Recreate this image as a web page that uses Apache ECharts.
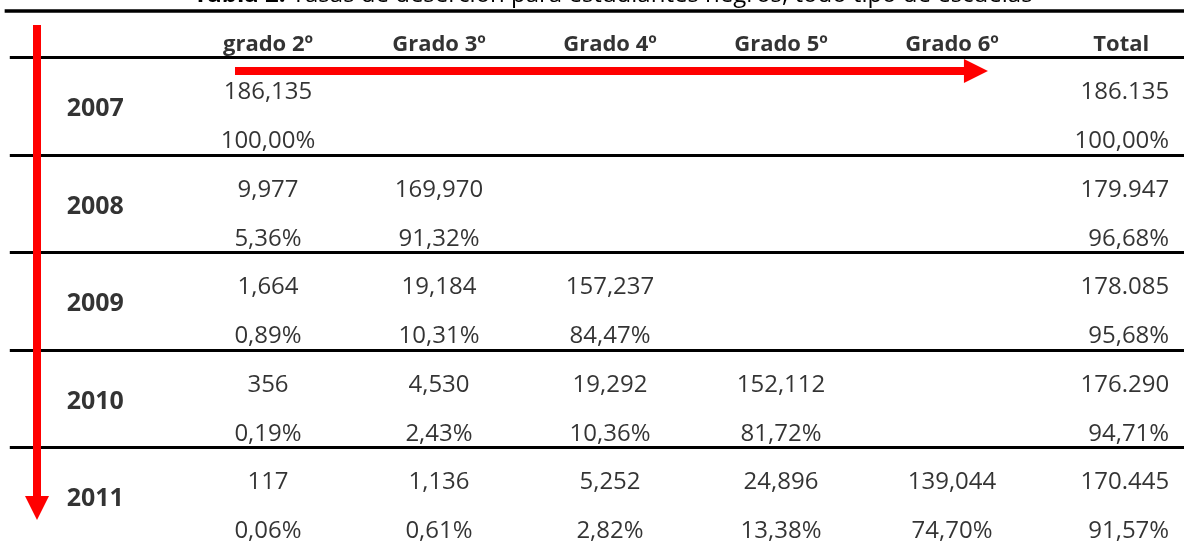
<!DOCTYPE html>
<html>
<head>
<meta charset="utf-8">
<script src="https://cdn.jsdelivr.net/npm/echarts@6/dist/echarts.min.js"></script>
<style>
  html, body { margin: 0; padding: 0; background: #fff; }
  #chart { width: 1184px; height: 544px; }
</style>
</head>
<body>
<div id="chart"></div>
<script>
// datos de la tabla
const years = ['2007', '2008', '2009', '2010', '2011'];
const grades = ['grado 2º', 'Grado 3º', 'Grado 4º', 'Grado 5º', 'Grado 6º'];
const totalHeader = 'Total';
const counts = [
    [186135],
    [9977, 169970],
    [1664, 19184, 157237],
    [356, 4530, 19292, 152112],
    [117, 1136, 5252, 24896, 139044]
];
const shares = [
    [100.00],
    [5.36, 91.32],
    [0.89, 10.31, 84.47],
    [0.19, 2.43, 10.36, 81.72],
    [0.06, 0.61, 2.82, 13.38, 74.70]
];
const totals = [186135, 179947, 178085, 176290, 170445];
const totalShares = [100.00, 96.68, 95.68, 94.71, 91.57];
const title = 'Tasas de deserción para estudiantes negros, todo tipo de escuelas';

// layout: 1 unidad x = una columna, 1 unidad y = un año
const W = 1184, H = 544;
const COL_PX = 171, ROW_PX = 97.5;
const X0 = 268, Y0 = 57.5;
const xMin = -X0 / COL_PX, xMax = xMin + W / COL_PX;
const yMin = -Y0 / ROW_PX, yMax = yMin + H / ROW_PX;

const HEADER_Y = -0.13;
const COUNT_OFF = 0.36;
const PCT_OFF = 0.86;
const YEAR_OFF = 0.53;
const YEAR_X = -1.01;
const TOTAL_X = 5.27;

const sep = (n, s) => String(n).replace(/\B(?=(\d{3})+(?!\d))/g, s);
const fmtPct = p => p.toFixed(2).replace('.', ',') + '%';

const FONT = '"Open Sans", "Noto Sans", sans-serif';

const headerCells = grades.map((g, i) => [i, HEADER_Y, g]).concat([[4.99, HEADER_Y, totalHeader]]);
const yearCells = years.map((y, r) => [YEAR_X, r + YEAR_OFF, y]);
const bodyCells = [];
counts.forEach((row, r) => {
    row.forEach((v, c) => {
        bodyCells.push([c, r + COUNT_OFF, sep(v, ',')]);
        bodyCells.push([c, r + PCT_OFF, fmtPct(shares[r][c])]);
    });
});
const totalCells = [];
totals.forEach((v, r) => {
    totalCells.push([TOTAL_X, r + COUNT_OFF, sep(v, '.')]);
    totalCells.push([TOTAL_X, r + PCT_OFF, fmtPct(totalShares[r])]);
});

const textSeries = (name, data, label) => ({
    name: name,
    type: 'scatter',
    data: data,
    symbolSize: 1,
    itemStyle: { color: 'transparent' },
    silent: true,
    z: 5,
    label: Object.assign({
        show: true,
        position: 'inside',
        color: '#000',
        fontFamily: FONT,
        formatter: p => p.value[2]
    }, label)
});

// lineas negras horizontales
const ruleStart = -1.51;
const blackRules = [[-0.48, 3.5]].concat([0, 1, 2, 3, 4].map(y => [y, 3]));

const chart = echarts.init(document.getElementById('chart'));
chart.setOption({
    animation: false,
    backgroundColor: '#fff',
    title: {
        text: '{b|Tabla 2.} ' + title,
        left: 608,
        top: -22,
        textAlign: 'center',
        textStyle: {
            fontFamily: FONT,
            fontSize: 24,
            fontWeight: 'normal',
            color: '#000',
            rich: {
                b: { fontFamily: FONT, fontSize: 24, fontWeight: 'bold', color: '#000' }
            }
        }
    },
    grid: { left: 0, right: 0, top: 0, bottom: 0 },
    xAxis: { type: 'value', min: xMin, max: xMax, show: false, splitLine: { show: false } },
    yAxis: { type: 'value', min: yMin, max: yMax, inverse: true, show: false, splitLine: { show: false } },
    series: [
        {
            name: 'reglas',
            type: 'scatter',
            data: [],
            silent: true,
            z: 2,
            markLine: {
                silent: true,
                symbol: ['none', 'none'],
                label: { show: false },
                data: blackRules.map(([y, w]) => [
                    { coord: [y < 0 ? ruleStart - 0.03 : ruleStart, y], lineStyle: { color: '#000', width: w, type: 'solid' } },
                    { coord: [xMax, y] }
                ])
            }
        },
        {
            name: 'flechas',
            type: 'scatter',
            data: [],
            silent: true,
            z: 4,
            markLine: {
                silent: true,
                symbol: ['none', 'triangle'],
                symbolSize: 24,
                label: { show: false },
                lineStyle: { color: '#ff0000', width: 8, type: 'solid', opacity: 1 },
                itemStyle: { color: '#ff0000' },
                data: [
                    [{ coord: [-0.193, 0.138] }, { coord: [4.14, 0.138] }],
                    [{ coord: [-1.351, -0.333] }, { coord: [-1.351, 4.62] }]
                ]
            }
        },
        textSeries('encabezado', headerCells, { fontSize: 22, fontWeight: 'bold' }),
        textSeries('años', yearCells, { fontSize: 25, fontWeight: 'bold' }),
        textSeries('celdas', bodyCells, { fontSize: 24 }),
        textSeries('total', totalCells, { fontSize: 24, align: 'right' })
    ]
});
</script>
</body>
</html>
